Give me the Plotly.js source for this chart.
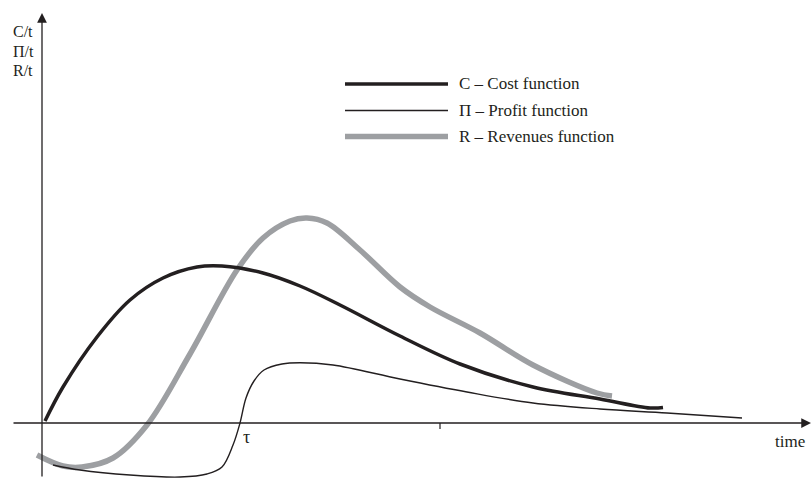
<!DOCTYPE html>
<html>
<head>
<meta charset="utf-8">
<script src="https://cdn.plot.ly/plotly-3.0.1.min.js"></script>
<style>html,body{margin:0;padding:0;background:#fff;}#chart{width:812px;height:478px;}</style>
</head>
<body>
<div id="chart"></div>
<script>
// Values: time (arbitrary units from the origin) and value (arbitrary units above the time axis)
const costT = [3,21,55,88,121,155,180,221,258,298,358,418,491,558,608,621];
const costV = [2,36,86,123,145,156,157,150,137,118,87,59,36,24,15,15.5];

const revT = [-5,21,40,71,105,148,195,221,248,265,285,318,358,388,438,491,555,570];
const revV = [-32,-43,-44,-35,-2,69,153,185,202,205,200,173,136,116,90,58,30,27];

const profT = [11,38,88,138,165,180,191,198,204,212,222,240,258,291,358,425,491,558,625,700];
const profV = [-42,-47,-52,-54,-51,-44,-22,0,25,42,53,59,60.3,58,44,31,20,14,10,5];

const seriesNames = ['C – Cost function', 'Π – Profit function', 'R – Revenues function'];
const yLabelLines = ['C/t', 'Π/t', 'R/t'];
const xLabel = 'time';
const tauLabel = 'τ';
const tauT = 198;
const midTick = 398;

const ink = '#231f20';
const grey = '#9d9fa2';
const serif = 'Liberation Serif, Times New Roman, serif';

const traces = [
  {x: revT, y: revV, mode: 'lines', line: {color: grey, width: 5.5, shape: 'spline', smoothing: 1}, name: seriesNames[2], hoverinfo: 'skip'},
  {x: costT, y: costV, mode: 'lines', line: {color: ink, width: 3.5, shape: 'spline', smoothing: 1}, name: seriesNames[0], hoverinfo: 'skip'},
  {x: profT, y: profV, mode: 'lines', line: {color: ink, width: 1.4, shape: 'spline', smoothing: 1}, name: seriesNames[1], hoverinfo: 'skip'}
];

const legendStyles = [
  {color: ink, width: 3.5},
  {color: ink, width: 1.4},
  {color: grey, width: 5.5}
];
const legendTop = [84, 110.5, 136.5];
const yLabelTop = [31.5, 51.5, 70.5];

const shapes = [
  {type: 'line', xref: 'x', yref: 'y', x0: midTick, x1: midTick, y0: 0, y1: -6, line: {color: ink, width: 1.2}}
];
const annotations = [
  {x: 0, y: 410, ax: 0, ay: -55, xref: 'x', yref: 'y', axref: 'x', ayref: 'y', text: '', showarrow: true, arrowhead: 2, arrowsize: 1.5, arrowwidth: 1.3, arrowcolor: ink},
  {x: 769, y: 0, ax: -30, ay: 0, xref: 'x', yref: 'y', axref: 'x', ayref: 'y', text: '', showarrow: true, arrowhead: 2, arrowsize: 1.5, arrowwidth: 1.3, arrowcolor: ink},
  {x: 748, y: -18, xref: 'x', yref: 'y', text: xLabel, showarrow: false, font: {family: serif, size: 17, color: ink}},
  {x: tauT + 6, y: -14, xref: 'x', yref: 'y', text: tauLabel, showarrow: false, font: {family: serif, size: 18, color: ink}}
];
yLabelLines.forEach((t, i) => {
  annotations.push({x: 11/812, y: 1 - yLabelTop[i]/478, xref: 'paper', yref: 'paper', xanchor: 'left', yanchor: 'middle', text: t, showarrow: false, font: {family: serif, size: 16, color: ink}});
});
seriesNames.forEach((n, i) => {
  const py = legendTop[i];
  shapes.push({type: 'line', xref: 'paper', yref: 'paper', x0: 345/812, x1: 448/812, y0: 1 - py/478, y1: 1 - py/478, line: legendStyles[i]});
  annotations.push({x: 457/812, y: 1 - (py - 0.5)/478, xref: 'paper', yref: 'paper', xanchor: 'left', yanchor: 'middle', text: n, showarrow: false, font: {family: serif, size: 17, color: ink}});
});

const layout = {
  width: 812, height: 478,
  margin: {l: 0, r: 0, t: 0, b: 0},
  paper_bgcolor: '#ffffff', plot_bgcolor: '#ffffff',
  showlegend: false,
  xaxis: {range: [-42, 770], visible: false, showgrid: false, zeroline: false, fixedrange: true},
  yaxis: {range: [-55, 423], visible: false, showgrid: false, zeroline: false, fixedrange: true},
  shapes: shapes,
  annotations: annotations
};

Plotly.newPlot('chart', traces, layout, {displayModeBar: false, staticPlot: true});
</script>
</body>
</html>
